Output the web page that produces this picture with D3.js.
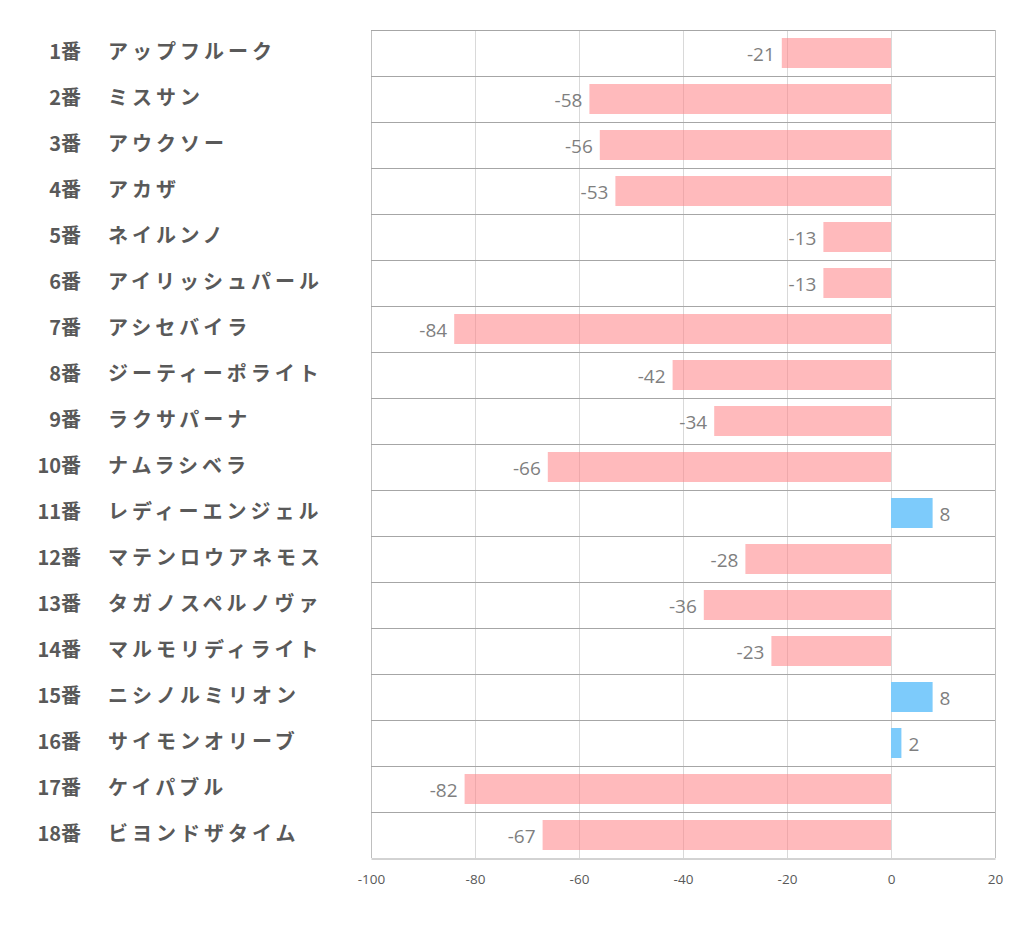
<!DOCTYPE html>
<html><head><meta charset="utf-8">
<script src="https://cdn.jsdelivr.net/npm/d3@7"></script>
<style>
body{margin:0;background:#fff;}
svg{display:block;}
</style></head>
<body>
<svg id="chart" width="1022" height="939"></svg>
<script>
const numbers = ["1番","2番","3番","4番","5番","6番","7番","8番","9番","10番","11番","12番","13番","14番","15番","16番","17番","18番"];
const names = ["アップフルーク","ミスサン","アウクソー","アカザ","ネイルンノ","アイリッシュパール","アシセバイラ","ジーティーポライト","ラクサパーナ","ナムラシベラ","レディーエンジェル","マテンロウアネモス","タガノスペルノヴァ","マルモリディライト","ニシノルミリオン","サイモンオリーブ","ケイパブル","ビヨンドザタイム"];
const values = [-21,-58,-56,-53,-13,-13,-84,-42,-34,-66,8,-28,-36,-23,8,2,-82,-67];
const tickValues = [-100,-80,-60,-40,-20,0,20];

const svg = d3.select("#chart");
const pLeft = 371, pRight = 995, pTop = 30, pBottom = 858;
const x = d3.scaleLinear().domain([-100,20]).range([pLeft,pRight]);
const y = d3.scaleBand().domain(d3.range(values.length)).range([pTop,pBottom]).paddingInner(0).paddingOuter(0);
const barH = 30;

// vertical gridlines
svg.append("g").selectAll("line").data(tickValues).join("line")
  .attr("x1",d=>x(d)+0.5).attr("x2",d=>x(d)+0.5).attr("y1",pTop).attr("y2",pBottom)
  .attr("stroke",d=> (d===-100||d===20) ? "#bfbfbf" : "#d9d9d9").attr("stroke-width",1);

// horizontal separators
svg.append("g").selectAll("line").data(d3.range(values.length)).join("line")
  .attr("x1",pLeft).attr("x2",pRight).attr("y1",d=>y(d)+0.5).attr("y2",d=>y(d)+0.5)
  .attr("stroke","#a6a6a6").attr("stroke-width",1);

// bars
svg.append("g").selectAll("rect").data(values).join("rect")
  .attr("x",d=>x(Math.min(0,d)))
  .attr("width",d=>Math.abs(x(d)-x(0)))
  .attr("y",(d,i)=>y(i)+(y.bandwidth()-barH)/2)
  .attr("height",barH)
  .attr("fill",d=>d<0 ? "rgba(255,130,133,0.55)" : "#7dcbfb");

// bottom axis
const axis = d3.axisBottom(x).tickValues(tickValues).tickSize(0).tickPadding(16).tickFormat(d=>String(d));
const ag = svg.append("g").attr("transform",`translate(0,${pBottom+0.5})`).call(axis);
ag.select(".domain").attr("stroke","#a6a6a6");
ag.selectAll("text").attr("font-family","'Open Sans', 'Noto Sans', sans-serif").attr("font-size",13.5).attr("fill","#595959");

// value labels
svg.append("g").selectAll("text").data(values).join("text")
  .attr("x",d=> d<0 ? x(d)-7 : x(d)+7)
  .attr("y",(d,i)=>y(i)+y.bandwidth()/2+1)
  .attr("dy","0.35em")
  .attr("text-anchor",d=> d<0 ? "end" : "start")
  .attr("font-family","'Open Sans', 'Noto Sans', sans-serif")
  .attr("font-size",19).attr("fill","#7f7f7f")
  .text(d=>d);

// category labels
const lab = svg.append("g");
lab.selectAll("text.num").data(numbers).join("text").attr("class","num")
  .attr("x",81).attr("y",(d,i)=>y(i)+y.bandwidth()/2-1)
  .attr("dy","0.35em").attr("text-anchor","end")
  .attr("font-family","'Noto Sans CJK JP', sans-serif").attr("font-weight","bold")
  .attr("font-size",20).attr("fill","#595959").text(d=>d);
lab.selectAll("text.name").data(names).join("text").attr("class","name")
  .attr("x",108).attr("y",(d,i)=>y(i)+y.bandwidth()/2-1)
  .attr("dy","0.35em").attr("text-anchor","start")
  .attr("font-family","'Noto Sans CJK JP', sans-serif").attr("font-weight","bold")
  .attr("font-size",20).attr("letter-spacing","4px").attr("fill","#595959").text(d=>d);
</script>
</body></html>
